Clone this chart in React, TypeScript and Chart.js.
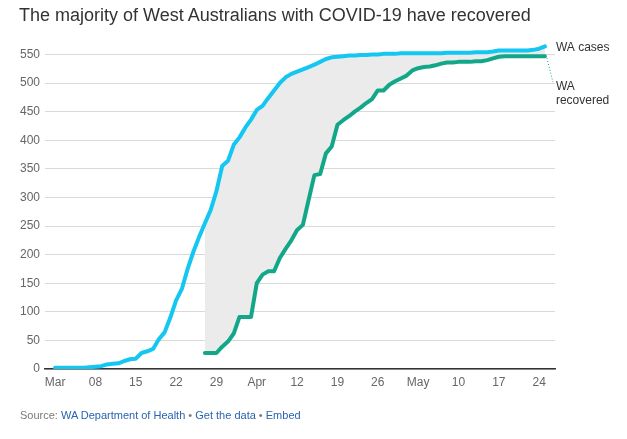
import React, { useEffect, useRef } from "react";
import { Chart, registerables } from "chart.js";

Chart.register(...registerables);

// Day index 0 = 1 March 2020, last = 25 May 2020
const cases = [
  2, 2, 2, 2, 2, 2, 3, 4, 5, 8,
  9, 10, 14, 17, 18, 28, 31, 35, 52, 64,
  90, 120, 140, 175, 205, 231, 255, 278, 311, 355,
  364, 392, 405, 422, 436, 453, 460, 474, 487, 500,
  510, 516, 520, 524, 528, 532, 537, 542, 545, 546,
  547, 548, 548, 549, 549, 550, 550, 551, 551, 551,
  552, 552, 552, 552, 552, 552, 552, 552, 553, 553,
  553, 553, 553, 554, 554, 554, 555, 557, 557, 557,
  557, 557, 557, 558, 560, 564,
];

const recoveredStartDay = 26; // 27 March
const recovered = [
  28, 28, 28, 39, 48, 62, 91, 91, 91, 150,
  165, 171, 171, 194, 210, 225, 243, 252, 296, 339,
  341, 377, 389, 427, 435, 442, 450, 457, 465, 472,
  487, 487, 497, 503, 508, 513, 522, 526, 528, 529,
  531, 534, 536, 536, 537, 537, 537, 538, 538, 540,
  543, 546, 547, 547, 547, 547, 547, 547, 547, 547,
];

const xTickLabels = ["Mar", "08", "15", "22", "29", "Apr", "12", "19", "26", "May", "10", "17", "24"];
const xTickStep = 7;
const yTicks = [0, 50, 100, 150, 200, 250, 300, 350, 400, 450, 500, 550];
const seriesNames = ["WA cases", "WA recovered"];

const CYAN = "#13c7f2";
const GREEN = "#12a789";
const FONT = 'Arial, "Liberation Sans", sans-serif';

export default function App() {
  const ref = useRef<HTMLCanvasElement | null>(null);

  useEffect(() => {
    if (!ref.current) return;
    const casesPts = cases.map((v, i) => ({ x: i, y: v }));
    const recPts = recovered.map((v, i) => ({ x: recoveredStartDay + i, y: v }));

    const endLabels = {
      id: "endLabels",
      afterDatasetsDraw(chart: any) {
        const ctx = chart.ctx;
        const xs = chart.scales.x;
        const ys = chart.scales.y;
        const cLast = cases.length - 1;
        const cx = xs.getPixelForValue(cLast);
        const cy = ys.getPixelForValue(cases[cLast]);
        const rLastDay = recoveredStartDay + recovered.length - 1;
        const rx = xs.getPixelForValue(rLastDay);
        const ry = ys.getPixelForValue(recovered[recovered.length - 1]);
        ctx.save();
        ctx.font = "12px " + FONT;
        ctx.fillStyle = "#333";
        ctx.textBaseline = "middle";
        ctx.textAlign = "left";
        ctx.fillText(seriesNames[0], cx + 11, cy + 1);
        const ly = ry + 31;
        const parts = seriesNames[1].split(" ");
        ctx.fillText(parts[0], rx + 11, ly);
        ctx.fillText(parts[1], rx + 11, ly + 14);
        ctx.strokeStyle = GREEN;
        ctx.lineWidth = 1;
        ctx.setLineDash([1, 2]);
        ctx.beginPath();
        ctx.moveTo(rx + 2, ry + 2);
        ctx.lineTo(rx + 8, ly - 5);
        ctx.stroke();
        ctx.restore();
      },
    };

    const chart = new Chart(ref.current, {
      type: "line",
      data: {
        datasets: [
          {
            label: seriesNames[0],
            data: casesPts,
            borderColor: CYAN,
            borderWidth: 4,
            pointRadius: 0,
            tension: 0,
            fill: false,
            borderCapStyle: "round",
            borderJoinStyle: "round",
          },
          {
            label: seriesNames[1],
            data: recPts,
            borderColor: GREEN,
            borderWidth: 4,
            pointRadius: 0,
            tension: 0,
            fill: { target: 0 },
            backgroundColor: "#ebebeb",
            borderCapStyle: "round",
            borderJoinStyle: "round",
          },
        ],
      },
      options: {
        responsive: false,
        animation: false,
        layout: { padding: { top: 43, right: 72, left: 0, bottom: 0 } },
        plugins: {
          legend: { display: false },
          tooltip: { enabled: false },
          title: { display: false },
        },
        scales: {
          x: {
            type: "linear",
            min: -1.75,
            max: 86.75,
            grid: { display: false, drawTicks: false },
            border: { display: true, color: "#333", width: 1.5 },
            ticks: {
              color: "#666",
              font: { size: 12, family: FONT },
              padding: 6,
              maxRotation: 0,
              autoSkip: false,
              callback: (v: any) => {
                const idx = Math.round(Number(v) / xTickStep);
                return xTickLabels[idx] ?? "";
              },
            },
            afterBuildTicks: (axis: any) => {
              axis.ticks = xTickLabels.map((_, i) => ({ value: i * xTickStep }));
            },
            afterFit: (s: any) => {
              s.height = 70;
            },
          },
          y: {
            min: 0,
            max: 570,
            grid: { color: "#d9d9d9", lineWidth: 1, drawTicks: false },
            border: { display: false },
            ticks: {
              color: "#666",
              font: { size: 12, family: FONT },
              padding: 5,
            },
            afterBuildTicks: (axis: any) => {
              axis.ticks = yTicks.map((v) => ({ value: v }));
            },
            afterFit: (s: any) => {
              s.width = 45;
            },
          },
        },
      },
      plugins: [endLabels],
    } as any);
    return () => chart.destroy();
  }, []);

  const blue = "#2a63b0";
  const gray = "#7a7a7a";
  return (
    <div style={{ position: "fixed", left: 0, top: 0, width: 627, height: 439, background: "#fff", fontFamily: FONT }}>
      <canvas ref={ref} width={627} height={439} style={{ position: "absolute", left: 0, top: 0 }} />
      <div style={{ position: "absolute", left: 19, top: 4, fontSize: 18, lineHeight: "22px", color: "#333", whiteSpace: "nowrap" }}>
        The majority of West Australians with COVID-19 have recovered
      </div>
      <div style={{ position: "absolute", left: 20, top: 408, fontSize: 11, lineHeight: "14px", color: gray, whiteSpace: "nowrap" }}>
        Source: <span style={{ color: blue }}>WA Department of Health</span> • <span style={{ color: blue }}>Get the data</span> • <span style={{ color: blue }}>Embed</span>
      </div>
    </div>
  );
}
